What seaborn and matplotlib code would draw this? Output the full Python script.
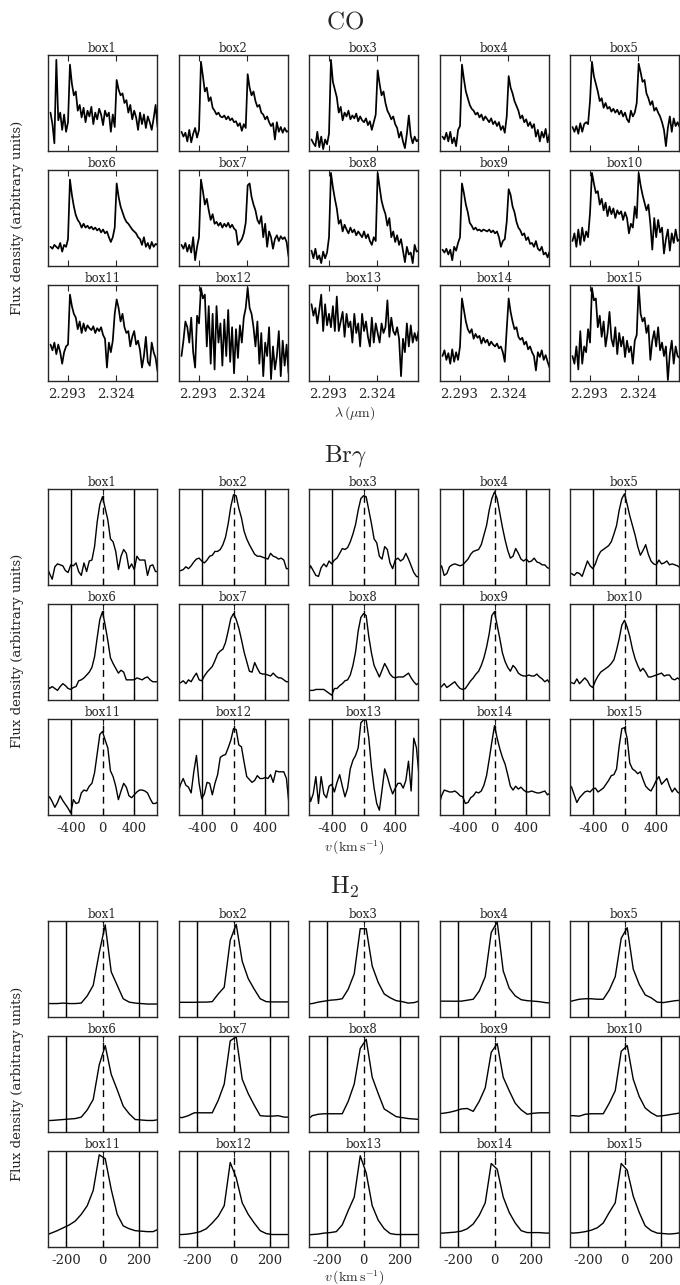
import numpy as np
import pandas as pd
import matplotlib
matplotlib.use('Agg')
import matplotlib.pyplot as plt
import seaborn as sns

sns.set_style('white')
plt.rcParams['font.family'] = ['DejaVu Serif']
plt.rcParams['mathtext.fontset'] = 'cm'
plt.rcParams['axes.unicode_minus'] = False

# ---- CO bandheads: wavelength grid (micron) and normalised flux per box ----
co_wave = [2.28200, 2.28325, 2.28450, 2.28575, 2.28700, 2.28825, 2.28950, 2.29075,
           2.29200, 2.29325, 2.29450, 2.29575, 2.29700, 2.29825, 2.29950, 2.30075,
           2.30200, 2.30325, 2.30450, 2.30575, 2.30700, 2.30825, 2.30950, 2.31075,
           2.31200, 2.31325, 2.31450, 2.31575, 2.31700, 2.31825, 2.31950, 2.32075,
           2.32200, 2.32325, 2.32450, 2.32575, 2.32700, 2.32825, 2.32950, 2.33075,
           2.33200, 2.33325, 2.33450, 2.33575, 2.33700, 2.33825, 2.33950, 2.34075,
           2.34200, 2.34325, 2.34450, 2.34575, 2.34700, 2.34825, 2.34950, 2.35075]

co_1 = [0.40, 0.28, 0.08, 0.95, 0.32, 0.40, 0.22, 0.38, 0.20, 0.30,
        0.90, 0.70, 0.58, 0.62, 0.42, 0.48, 0.35, 0.45, 0.30, 0.42,
        0.36, 0.46, 0.28, 0.40, 0.33, 0.44, 0.38, 0.27, 0.42, 0.36,
        0.40, 0.20, 0.38, 0.25, 0.74, 0.64, 0.58, 0.60, 0.50, 0.53,
        0.40, 0.48, 0.33, 0.42, 0.35, 0.22, 0.40, 0.28, 0.38, 0.24,
        0.36, 0.30, 0.22, 0.34, 0.48, 0.25]
co_2 = [0.20, 0.15, 0.19, 0.10, 0.22, 0.09, 0.18, 0.24, 0.14, 0.22,
        0.93, 0.78, 0.62, 0.66, 0.52, 0.56, 0.45, 0.42, 0.38, 0.40,
        0.36, 0.35, 0.37, 0.33, 0.36, 0.32, 0.34, 0.30, 0.31, 0.26,
        0.29, 0.21, 0.28, 0.24, 0.80, 0.66, 0.58, 0.62, 0.52, 0.46,
        0.48, 0.40, 0.38, 0.33, 0.36, 0.30, 0.26, 0.29, 0.12, 0.30,
        0.20, 0.25, 0.19, 0.24, 0.20, 0.21]
co_3 = [0.12, 0.08, 0.05, 0.20, 0.04, 0.15, 0.02, 0.12, 0.07, 0.18,
        0.95, 0.72, 0.64, 0.56, 0.40, 0.46, 0.32, 0.40, 0.36, 0.42,
        0.33, 0.37, 0.34, 0.39, 0.31, 0.36, 0.32, 0.30, 0.34, 0.27,
        0.31, 0.22, 0.30, 0.38, 0.84, 0.70, 0.58, 0.62, 0.50, 0.42,
        0.38, 0.33, 0.36, 0.28, 0.24, 0.14, 0.20, 0.10, 0.03, 0.18,
        0.37, 0.16, 0.08, 0.15, 0.10, 0.12]
co_4 = [0.15, 0.12, 0.19, 0.10, 0.20, 0.08, 0.14, 0.05, 0.22, 0.26,
        0.90, 0.75, 0.62, 0.55, 0.48, 0.44, 0.42, 0.38, 0.40, 0.35,
        0.38, 0.32, 0.36, 0.33, 0.30, 0.34, 0.28, 0.31, 0.26, 0.30,
        0.22, 0.26, 0.19, 0.36, 0.78, 0.66, 0.60, 0.52, 0.47, 0.42,
        0.34, 0.37, 0.30, 0.33, 0.26, 0.30, 0.24, 0.28, 0.15, 0.22,
        0.10, 0.20, 0.14, 0.23, 0.09, 0.18]
co_5 = [0.25, 0.20, 0.26, 0.18, 0.29, 0.20, 0.28, 0.30, 0.28, 0.52,
        0.93, 0.78, 0.70, 0.62, 0.52, 0.55, 0.45, 0.50, 0.44, 0.46,
        0.41, 0.44, 0.40, 0.43, 0.38, 0.42, 0.36, 0.40, 0.33, 0.30,
        0.42, 0.36, 0.40, 0.50, 0.91, 0.82, 0.72, 0.74, 0.60, 0.55,
        0.48, 0.52, 0.42, 0.45, 0.40, 0.36, 0.30, 0.22, 0.05, 0.24,
        0.36, 0.20, 0.34, 0.26, 0.30, 0.25]
co_6 = [0.20, 0.18, 0.22, 0.20, 0.18, 0.24, 0.15, 0.22, 0.20, 0.28,
        0.90, 0.74, 0.62, 0.53, 0.48, 0.45, 0.40, 0.44, 0.40, 0.42,
        0.39, 0.41, 0.38, 0.40, 0.37, 0.39, 0.35, 0.38, 0.34, 0.36,
        0.30, 0.25, 0.30, 0.40, 0.86, 0.72, 0.62, 0.56, 0.50, 0.46,
        0.44, 0.41, 0.38, 0.36, 0.34, 0.30, 0.28, 0.22, 0.30, 0.20,
        0.24, 0.18, 0.25, 0.20, 0.23, 0.22]
co_7 = [0.22, 0.18, 0.24, 0.15, 0.22, 0.14, 0.30, 0.06, 0.20, 0.30,
        0.90, 0.78, 0.64, 0.70, 0.58, 0.48, 0.54, 0.44, 0.46, 0.42,
        0.45, 0.40, 0.44, 0.41, 0.45, 0.40, 0.43, 0.39, 0.37, 0.22,
        0.25, 0.28, 0.34, 0.45, 0.84, 0.86, 0.72, 0.64, 0.58, 0.48,
        0.44, 0.52, 0.30, 0.44, 0.20, 0.36, 0.30, 0.18, 0.28, 0.32,
        0.26, 0.31, 0.28, 0.30, 0.25, 0.10]
co_8 = [0.16, 0.08, 0.18, 0.07, 0.11, 0.03, 0.15, 0.08, 0.14, 0.30,
        0.97, 0.82, 0.70, 0.60, 0.44, 0.48, 0.36, 0.43, 0.38, 0.34,
        0.40, 0.35, 0.38, 0.32, 0.36, 0.33, 0.30, 0.36, 0.29, 0.33,
        0.26, 0.22, 0.30, 0.26, 0.97, 0.82, 0.68, 0.60, 0.54, 0.42,
        0.50, 0.30, 0.36, 0.25, 0.32, 0.22, 0.28, 0.16, 0.04, 0.20,
        0.12, 0.14, 0.03, 0.22, 0.15, 0.16]
co_9 = [0.17, 0.14, 0.18, 0.12, 0.17, 0.06, 0.20, 0.16, 0.24, 0.30,
        0.86, 0.76, 0.64, 0.56, 0.45, 0.42, 0.38, 0.40, 0.37, 0.38,
        0.36, 0.38, 0.37, 0.36, 0.38, 0.35, 0.37, 0.34, 0.36, 0.30,
        0.20, 0.26, 0.28, 0.46, 0.80, 0.74, 0.62, 0.56, 0.46, 0.40,
        0.37, 0.32, 0.34, 0.27, 0.30, 0.23, 0.24, 0.20, 0.26, 0.18,
        0.16, 0.20, 0.12, 0.14, 0.09, 0.15]
co_10 = [0.26, 0.34, 0.20, 0.38, 0.22, 0.40, 0.26, 0.36, 0.30, 0.55,
         0.97, 0.86, 0.76, 0.78, 0.64, 0.70, 0.58, 0.66, 0.52, 0.62,
         0.54, 0.60, 0.50, 0.58, 0.54, 0.57, 0.48, 0.56, 0.50, 0.34,
         0.44, 0.40, 0.62, 0.50, 0.97, 0.84, 0.74, 0.66, 0.58, 0.64,
         0.44, 0.17, 0.50, 0.30, 0.48, 0.35, 0.40, 0.13, 0.28, 0.38,
         0.16, 0.34, 0.24, 0.38, 0.26, 0.28]
co_11 = [0.38, 0.32, 0.40, 0.28, 0.38, 0.30, 0.18, 0.30, 0.36, 0.38,
         0.90, 0.78, 0.70, 0.66, 0.54, 0.62, 0.50, 0.60, 0.52, 0.58,
         0.55, 0.53, 0.57, 0.50, 0.55, 0.52, 0.56, 0.48, 0.44, 0.14,
         0.40, 0.30, 0.42, 0.70, 0.85, 0.76, 0.62, 0.70, 0.56, 0.50,
         0.52, 0.36, 0.46, 0.52, 0.38, 0.42, 0.32, 0.14, 0.26, 0.46,
         0.20, 0.16, 0.40, 0.30, 0.24, 0.10]
co_12 = [0.26, 0.42, 0.62, 0.56, 0.40, 0.66, 0.30, 0.14, 0.68, 0.60,
         0.97, 0.86, 0.90, 0.36, 0.78, 0.18, 0.70, 0.12, 0.78, 0.40,
         0.60, 0.16, 0.64, 0.26, 0.74, 0.20, 0.56, 0.08, 0.54, 0.24,
         0.58, 0.40, 0.66, 0.76, 0.97, 0.76, 0.70, 0.56, 0.36, 0.62,
         0.18, 0.50, 0.05, 0.40, 0.26, 0.56, 0.02, 0.36, 0.12, 0.26,
         0.52, 0.05, 0.42, 0.16, 0.38, 0.08]
co_13 = [0.80, 0.68, 0.76, 0.60, 0.74, 0.90, 0.52, 0.80, 0.58, 0.70,
         0.56, 0.78, 0.52, 0.88, 0.52, 0.62, 0.72, 0.46, 0.70, 0.56,
         0.62, 0.40, 0.70, 0.50, 0.60, 0.36, 0.70, 0.52, 0.62, 0.46,
         0.36, 0.66, 0.40, 0.60, 0.50, 0.40, 0.60, 0.50, 0.56, 0.84,
         0.46, 0.66, 0.52, 0.48, 0.56, 0.44, 0.05, 0.44, 0.30, 0.60,
         0.36, 0.58, 0.40, 0.50, 0.42, 0.52]
co_14 = [0.26, 0.32, 0.22, 0.29, 0.18, 0.33, 0.20, 0.30, 0.22, 0.36,
         0.86, 0.74, 0.62, 0.54, 0.50, 0.54, 0.44, 0.49, 0.45, 0.47,
         0.39, 0.45, 0.40, 0.43, 0.37, 0.41, 0.38, 0.36, 0.39, 0.34,
         0.36, 0.30, 0.20, 0.54, 0.86, 0.72, 0.62, 0.54, 0.56, 0.46,
         0.43, 0.45, 0.38, 0.41, 0.33, 0.36, 0.30, 0.26, 0.11, 0.30,
         0.25, 0.32, 0.22, 0.27, 0.20, 0.14]
co_15 = [0.26, 0.18, 0.36, 0.12, 0.52, 0.18, 0.36, 0.30, 0.54, 0.40,
         0.97, 0.84, 0.86, 0.56, 0.68, 0.46, 0.62, 0.36, 0.50, 0.72,
         0.44, 0.36, 0.56, 0.28, 0.50, 0.36, 0.46, 0.25, 0.42, 0.30,
         0.36, 0.18, 0.42, 0.48, 1.00, 0.70, 0.62, 0.66, 0.50, 0.58,
         0.22, 0.42, 0.52, 0.36, 0.56, 0.32, 0.40, 0.26, 0.36, 0.01,
         0.28, 0.42, 0.18, 0.36, 0.26, 0.24]

# ---- Br gamma: velocity grid (km/s) and normalised flux per box ----
brg_vel = [-714, -680, -646, -612, -578, -544, -510, -476, -442, -408, -374,
           -340, -306, -272, -238, -204, -170, -136, -102, -68, -34, 0,
           34, 68, 102, 136, 170, 204, 238, 272, 306, 340, 374, 408,
           442, 476, 510, 544, 578, 612, 646, 680, 714]

brg_1 = [0.19, 0.12, 0.06, 0.19, 0.22, 0.21, 0.20, 0.15, 0.13, 0.21,
         0.20, 0.23, 0.14, 0.10, 0.23, 0.14, 0.25, 0.26, 0.40, 0.66,
         0.84, 0.92, 0.80, 0.68, 0.48, 0.45, 0.35, 0.16, 0.30, 0.37,
         0.33, 0.17, 0.22, 0.16, 0.30, 0.26, 0.26, 0.26, 0.10, 0.20,
         0.21, 0.14, 0.14]
brg_2 = [0.14, 0.15, 0.16, 0.19, 0.17, 0.20, 0.24, 0.27, 0.28, 0.25,
         0.23, 0.26, 0.30, 0.31, 0.35, 0.35, 0.37, 0.42, 0.50, 0.64,
         0.82, 0.94, 0.93, 0.80, 0.70, 0.56, 0.48, 0.42, 0.37, 0.32,
         0.30, 0.30, 0.29, 0.28, 0.27, 0.33, 0.30, 0.29, 0.27, 0.28,
         0.26, 0.17, 0.17]
brg_3 = [0.12, 0.20, 0.15, 0.10, 0.09, 0.18, 0.22, 0.19, 0.25, 0.22,
         0.26, 0.28, 0.33, 0.38, 0.37, 0.39, 0.45, 0.53, 0.63, 0.78,
         0.90, 0.93, 0.92, 0.78, 0.64, 0.48, 0.44, 0.30, 0.27, 0.40,
         0.37, 0.23, 0.17, 0.26, 0.28, 0.25, 0.27, 0.33, 0.27, 0.20,
         0.13, 0.09, 0.08]
brg_4 = [0.15, 0.20, 0.10, 0.12, 0.19, 0.21, 0.22, 0.21, 0.20, 0.21,
         0.24, 0.27, 0.32, 0.35, 0.36, 0.37, 0.42, 0.52, 0.62, 0.78,
         0.90, 0.97, 0.90, 0.75, 0.60, 0.47, 0.36, 0.28, 0.30, 0.38,
         0.33, 0.27, 0.25, 0.27, 0.24, 0.25, 0.28, 0.24, 0.23, 0.21,
         0.21, 0.18, 0.17]
brg_5 = [0.11, 0.12, 0.10, 0.13, 0.12, 0.09, 0.17, 0.25, 0.20, 0.17,
         0.22, 0.30, 0.35, 0.37, 0.39, 0.41, 0.45, 0.53, 0.62, 0.78,
         0.90, 0.95, 0.84, 0.72, 0.62, 0.52, 0.40, 0.31, 0.36, 0.42,
         0.32, 0.25, 0.22, 0.21, 0.26, 0.22, 0.23, 0.25, 0.21, 0.22,
         0.21, 0.20, 0.18]
brg_6 = [0.16, 0.12, 0.14, 0.12, 0.10, 0.14, 0.17, 0.15, 0.12, 0.11,
         0.13, 0.14, 0.20, 0.21, 0.23, 0.26, 0.29, 0.34, 0.45, 0.65,
         0.84, 0.92, 0.78, 0.62, 0.44, 0.38, 0.33, 0.28, 0.31, 0.29,
         0.21, 0.21, 0.21, 0.21, 0.23, 0.22, 0.21, 0.23, 0.24, 0.21,
         0.19, 0.19, 0.19]
brg_7 = [0.17, 0.18, 0.20, 0.17, 0.21, 0.19, 0.24, 0.28, 0.21, 0.20,
         0.25, 0.29, 0.32, 0.35, 0.41, 0.48, 0.51, 0.53, 0.60, 0.72,
         0.85, 0.90, 0.84, 0.75, 0.63, 0.50, 0.40, 0.30, 0.29, 0.39,
         0.33, 0.28, 0.27, 0.27, 0.26, 0.25, 0.28, 0.25, 0.23, 0.23,
         0.21, 0.19, 0.19]
brg_8 = [0.10, 0.10, 0.10, 0.11, 0.11, 0.11, 0.11, 0.09, 0.07, 0.05,
         0.12, 0.12, 0.15, 0.17, 0.20, 0.21, 0.26, 0.36, 0.50, 0.72,
         0.86, 0.90, 0.88, 0.66, 0.49, 0.36, 0.30, 0.24, 0.31, 0.38,
         0.33, 0.27, 0.24, 0.23, 0.24, 0.24, 0.24, 0.26, 0.28, 0.23,
         0.19, 0.16, 0.18]
brg_9 = [0.12, 0.14, 0.17, 0.13, 0.15, 0.17, 0.19, 0.15, 0.12, 0.11,
         0.12, 0.16, 0.20, 0.23, 0.27, 0.30, 0.36, 0.44, 0.55, 0.69,
         0.88, 0.92, 0.78, 0.64, 0.49, 0.40, 0.34, 0.30, 0.36, 0.33,
         0.28, 0.26, 0.25, 0.25, 0.26, 0.25, 0.25, 0.27, 0.24, 0.22,
         0.19, 0.21, 0.17]
brg_10 = [0.19, 0.18, 0.17, 0.22, 0.17, 0.20, 0.23, 0.20, 0.15, 0.13,
          0.20, 0.25, 0.29, 0.31, 0.33, 0.35, 0.38, 0.42, 0.52, 0.64,
          0.78, 0.83, 0.76, 0.66, 0.53, 0.43, 0.36, 0.30, 0.33, 0.29,
          0.24, 0.24, 0.25, 0.26, 0.27, 0.28, 0.25, 0.26, 0.26, 0.22,
          0.21, 0.23, 0.21]
brg_11 = [0.16, 0.19, 0.14, 0.08, 0.13, 0.20, 0.15, 0.11, 0.07, 0.02,
          0.16, 0.12, 0.13, 0.23, 0.26, 0.25, 0.30, 0.33, 0.44, 0.64,
          0.84, 0.87, 0.78, 0.70, 0.46, 0.40, 0.30, 0.16, 0.25, 0.33,
          0.29, 0.20, 0.18, 0.21, 0.24, 0.26, 0.26, 0.25, 0.23, 0.17,
          0.12, 0.12, 0.14]
brg_12 = [0.22, 0.32, 0.38, 0.31, 0.29, 0.23, 0.45, 0.62, 0.33, 0.17,
          0.22, 0.34, 0.33, 0.21, 0.33, 0.42, 0.60, 0.62, 0.63, 0.70,
          0.78, 0.90, 0.89, 0.73, 0.71, 0.55, 0.40, 0.37, 0.34, 0.36,
          0.41, 0.38, 0.38, 0.39, 0.38, 0.42, 0.34, 0.46, 0.45, 0.45,
          0.45, 0.38, 0.10]
brg_13 = [0.30, 0.14, 0.22, 0.40, 0.12, 0.40, 0.22, 0.18, 0.30, 0.32,
          0.24, 0.34, 0.42, 0.30, 0.19, 0.28, 0.48, 0.57, 0.62, 0.70,
          0.96, 0.99, 0.99, 0.80, 0.50, 0.28, 0.12, 0.05, 0.26, 0.48,
          0.40, 0.30, 0.22, 0.28, 0.33, 0.33, 0.28, 0.36, 0.56, 0.25,
          0.80, 0.70, 0.40]
brg_14 = [0.10, 0.20, 0.26, 0.25, 0.24, 0.24, 0.25, 0.23, 0.20, 0.19,
          0.12, 0.13, 0.18, 0.20, 0.24, 0.23, 0.25, 0.31, 0.41, 0.58,
          0.76, 0.93, 0.80, 0.69, 0.60, 0.53, 0.42, 0.30, 0.26, 0.30,
          0.27, 0.29, 0.26, 0.24, 0.24, 0.25, 0.24, 0.23, 0.23, 0.24,
          0.25, 0.21, 0.23]
brg_15 = [0.32, 0.29, 0.21, 0.13, 0.18, 0.21, 0.24, 0.25, 0.24, 0.27,
          0.28, 0.24, 0.26, 0.28, 0.32, 0.36, 0.41, 0.42, 0.48, 0.72,
          0.90, 0.91, 0.80, 0.54, 0.48, 0.46, 0.43, 0.45, 0.37, 0.30,
          0.27, 0.25, 0.30, 0.36, 0.40, 0.32, 0.35, 0.38, 0.30, 0.24,
          0.28, 0.24, 0.22]

# ---- H2: velocity grid (km/s) and normalised flux per box ----
h2_vel = [-315, -282, -249, -216, -183, -150, -117, -84, -51, -18,
          15, 48, 81, 114, 147, 180, 213, 246, 279, 312]

h2_1 = [0.14, 0.14, 0.14, 0.145, 0.14, 0.14, 0.145, 0.22, 0.33, 0.67,
        0.96, 0.47, 0.33, 0.19, 0.155, 0.145, 0.14, 0.135, 0.135, 0.135]
h2_2 = [0.153, 0.153, 0.153, 0.153, 0.155, 0.155, 0.16, 0.24, 0.31, 0.80,
        0.965, 0.58, 0.40, 0.29, 0.19, 0.16, 0.157, 0.157, 0.157, 0.157]
h2_3 = [0.135, 0.14, 0.155, 0.165, 0.175, 0.18, 0.19, 0.29, 0.45, 0.92,
        0.92, 0.53, 0.36, 0.24, 0.20, 0.17, 0.16, 0.145, 0.15, 0.17]
h2_4 = [0.165, 0.165, 0.165, 0.164, 0.165, 0.175, 0.185, 0.27, 0.42, 0.88,
        0.99, 0.48, 0.30, 0.22, 0.18, 0.17, 0.165, 0.16, 0.15, 0.145]
h2_5 = [0.155, 0.17, 0.185, 0.19, 0.19, 0.185, 0.185, 0.28, 0.42, 0.82,
        0.93, 0.50, 0.34, 0.23, 0.20, 0.155, 0.15, 0.16, 0.17, 0.175]
h2_6 = [0.12, 0.12, 0.125, 0.13, 0.135, 0.14, 0.155, 0.23, 0.34, 0.70,
        0.90, 0.60, 0.44, 0.27, 0.19, 0.13, 0.125, 0.12, 0.12, 0.13]
h2_7 = [0.155, 0.15, 0.17, 0.20, 0.20, 0.20, 0.20, 0.33, 0.50, 0.95,
        0.99, 0.55, 0.40, 0.28, 0.17, 0.165, 0.165, 0.17, 0.155, 0.155]
h2_8 = [0.12, 0.17, 0.185, 0.19, 0.19, 0.19, 0.19, 0.32, 0.50, 0.87,
        0.965, 0.57, 0.40, 0.24, 0.20, 0.16, 0.15, 0.14, 0.135, 0.13]
h2_9 = [0.19, 0.195, 0.205, 0.22, 0.24, 0.245, 0.215, 0.32, 0.46, 0.83,
        0.92, 0.57, 0.43, 0.30, 0.23, 0.185, 0.195, 0.20, 0.20, 0.20]
h2_10 = [0.17, 0.17, 0.165, 0.185, 0.19, 0.19, 0.19, 0.30, 0.43, 0.84,
         0.90, 0.55, 0.37, 0.25, 0.20, 0.165, 0.17, 0.18, 0.19, 0.20]
h2_11 = [0.12, 0.145, 0.17, 0.20, 0.23, 0.27, 0.34, 0.43, 0.59, 0.96,
         0.92, 0.60, 0.34, 0.22, 0.19, 0.17, 0.165, 0.16, 0.16, 0.19]
h2_12 = [0.13, 0.13, 0.135, 0.145, 0.16, 0.19, 0.25, 0.32, 0.43, 0.88,
         0.72, 0.46, 0.34, 0.25, 0.17, 0.14, 0.13, 0.13, 0.13, 0.13]
h2_13 = [0.125, 0.13, 0.135, 0.145, 0.15, 0.16, 0.23, 0.38, 0.52, 0.95,
         0.77, 0.43, 0.28, 0.19, 0.14, 0.13, 0.13, 0.13, 0.13, 0.13]
h2_14 = [0.145, 0.145, 0.15, 0.155, 0.165, 0.19, 0.24, 0.33, 0.46, 0.87,
         0.81, 0.52, 0.36, 0.25, 0.17, 0.15, 0.15, 0.15, 0.145, 0.145]
h2_15 = [0.15, 0.145, 0.15, 0.16, 0.175, 0.20, 0.25, 0.36, 0.46, 0.87,
         0.80, 0.53, 0.36, 0.22, 0.17, 0.145, 0.14, 0.135, 0.14, 0.15]

co_flux = [co_1, co_2, co_3, co_4, co_5, co_6, co_7, co_8, co_9, co_10,
           co_11, co_12, co_13, co_14, co_15]
brg_flux = [brg_1, brg_2, brg_3, brg_4, brg_5, brg_6, brg_7, brg_8, brg_9, brg_10,
            brg_11, brg_12, brg_13, brg_14, brg_15]
h2_flux = [h2_1, h2_2, h2_3, h2_4, h2_5, h2_6, h2_7, h2_8, h2_9, h2_10,
           h2_11, h2_12, h2_13, h2_14, h2_15]

# layout in pixels
W, H = 680, 1285
col_left = [48, 179, 309, 440, 570]
pw, ph = 109, 96

fig = plt.figure(figsize=(W / 100, H / 100), dpi=100)


def draw_section(x, fluxes, xlim, ticks, ticklabels, row_tops, side_lines, lw):
    for k, y in enumerate(fluxes):
        r, c = divmod(k, 5)
        top = row_tops[r]
        ax = fig.add_axes([col_left[c] / W, 1 - (top + ph) / H, pw / W, ph / H])
        df = pd.DataFrame({'x': x, 'y': y})
        sns.lineplot(data=df, x='x', y='y', ax=ax, color='k', linewidth=lw)
        if side_lines is not None:
            for v in side_lines:
                ax.axvline(v, color='k', lw=1.0)
            ax.axvline(0, color='k', lw=1.0, ls=(0, (5, 3.5)))
        ax.set_xlim(xlim)
        ax.set_ylim(0, 1)
        ax.set_yticks([])
        ax.set_xticks(ticks)
        ax.tick_params(axis='x', direction='in', top=True, bottom=True,
                       length=4, width=0.8, labelsize=9.5, pad=5)
        if r == 2:
            ax.set_xticklabels(ticklabels)
        else:
            ax.set_xticklabels([])
        ax.set_xlabel('')
        ax.set_ylabel('')
        ax.set_title('box%d' % (k + 1), fontsize=8.5, pad=2.5)
        for s in ax.spines.values():
            s.set_linewidth(1.0)
            s.set_color('0.15')


draw_section(co_wave, co_flux, (2.2804, 2.3504), [2.293, 2.324],
             ['2.293', '2.324'], [55, 170, 285], None, 1.25)
draw_section(brg_vel, brg_flux, (-700, 700), [-400, 0, 400],
             ['-400', '0', '400'], [489, 604, 719], [-400, 400], 1.0)
draw_section(h2_vel, h2_flux, (-300, 300), [-200, 0, 200],
             ['-200', '0', '200'], [921, 1036, 1151], [-200, 200], 1.0)

# section titles
fig.text(345 / W, 1 - 22 / H, r'$\mathrm{CO}$', ha='center', va='center', fontsize=18)
fig.text(345 / W, 1 - 456 / H, r'$\mathrm{Br}\gamma$', ha='center', va='center', fontsize=18)
fig.text(345 / W, 1 - 887 / H, r'$\mathrm{H}_2$', ha='center', va='center', fontsize=18)

# x labels
fig.text(355 / W, 1 - 413 / H, r'$\lambda\,(\mu\mathrm{m})$', ha='center', va='center', fontsize=10)
fig.text(354 / W, 1 - 848 / H, r'$v\,(\mathrm{km\,s^{-1}})$', ha='center', va='center', fontsize=10)
fig.text(354 / W, 1 - 1278 / H, r'$v\,(\mathrm{km\,s^{-1}})$', ha='center', va='center', fontsize=10)

# y labels
for yc in [218, 651, 1084]:
    fig.text(18 / W, 1 - yc / H, 'Flux density (arbitrary units)', rotation=90,
             ha='center', va='center', fontsize=9.5)

fig.savefig('out.png', dpi=100)
